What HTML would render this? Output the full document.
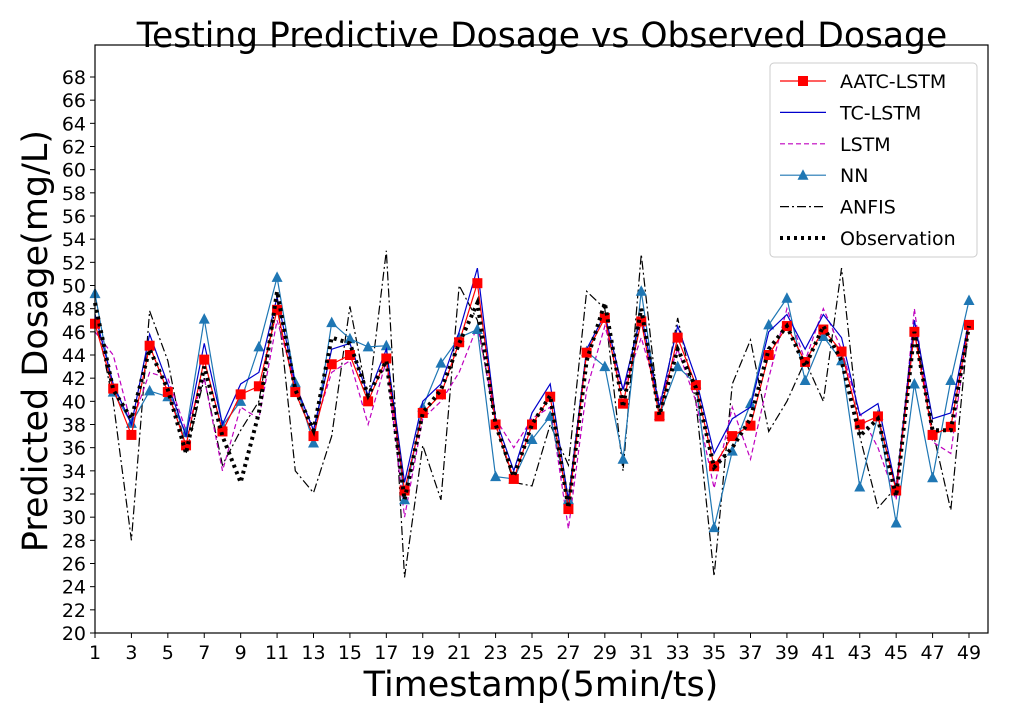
<!DOCTYPE html>
<html><head><meta charset="utf-8"><style>
body{margin:0;background:#fff;}
svg{font-family:"DejaVu Sans","Liberation Sans",sans-serif;}
</style></head><body>
<svg id="chart" width="1011" height="721">
<rect width="1011" height="721" fill="#fff"/>
<text x="542" y="47" font-size="34.5" text-anchor="middle">Testing Predictive Dosage vs Observed Dosage</text>
<text transform="translate(47,341) rotate(-90)" font-size="35" text-anchor="middle">Predicted Dosage(mg/L)</text>
<text x="541" y="696" font-size="35" text-anchor="middle">Timestamp(5min/ts)</text>
<g id="axes"></g>
<g id="series"></g>
<rect x="95" y="45" width="893" height="588" fill="none" stroke="#000" stroke-width="1.2"/>
<g id="legend"></g>
</svg>
<script>
const timestamps=[];for(let i=1;i<=49;i++)timestamps.push(i);
const aatc=[46.7,41.1,37.1,44.8,40.8,36.2,43.6,37.4,40.6,41.3,47.9,40.8,37.0,43.2,44.0,40.0,43.7,32.3,39.0,40.6,45.1,50.2,38.0,33.3,38.0,40.4,30.7,44.2,47.2,39.8,46.9,38.7,45.5,41.4,34.4,37.0,37.9,44.0,46.5,43.4,46.2,44.3,38.0,38.7,32.3,46.0,37.1,37.8,46.6];
const tclstm=[47.5,41.5,38,45.8,41.5,37,45,38,41.5,42.5,49,41.5,37.5,44.5,45,40.5,44.5,33,40,41.5,46,51.5,38.5,34,39,41.5,31.5,44.5,47.5,41,47.5,39.5,46.5,42,35.5,38.5,39.5,46,47.5,44.5,47.5,45.5,38.8,39.8,32.5,47,38.5,39,47];
const lstm=[46,44,38,42.5,42,37.5,42,34,39.5,38.5,47,41.5,37.5,42.5,43.5,38,43.5,30,38.5,40,42.5,46.5,38.5,36,38.5,39.5,29,41,46.5,41,45.5,40,44.5,40,32.5,39.5,35,42,48,43.5,48,44.5,39,36,31.5,48,36.5,35.5,47];
const nn=[49.3,40.8,38.1,40.9,40.4,37.3,47.1,37.9,40,44.7,50.7,41.6,36.4,46.8,45.4,44.7,44.8,31.5,39.5,43.3,45.5,46.2,33.5,33.3,36.7,38.7,31.5,44.3,43,35,49.5,38.8,43,41.5,29.1,35.7,39.8,46.6,48.9,41.8,45.6,43.5,32.6,38.8,29.5,41.5,33.4,41.8,48.7];
const anfis=[47.5,40,28,47.8,43.5,35.5,42,34.5,37.5,40,49,34,32.1,37,48.2,40,53,24.8,36.2,31.5,50,47,38,33,32.7,38,34.5,49.5,48,34,52.7,38.6,47.2,40,24.9,41.5,45.3,37.4,40,43.5,40,51.5,37,30.8,32.6,46.5,37.5,30.6,47];
const observation=[48.5,41,38.5,44.5,41,35.5,43,37,33,39,49.5,41,37.5,45.5,45,40.5,43.5,31.5,39,41,45,48.5,38,33.5,38,40.5,30.8,43.5,48.5,39.5,48,38.8,44.5,41.2,34.3,36,38.5,44.5,46.5,43,46.5,43.5,37,38.5,31.8,46,37.5,37.5,46.5];
const yTicks=[20,22,24,26,28,30,32,34,36,38,40,42,44,46,48,50,52,54,56,58,60,62,64,66,68];
const xTicks=[1,3,5,7,9,11,13,15,17,19,21,23,25,27,29,31,33,35,37,39,41,43,45,47,49];
const NS="http://www.w3.org/2000/svg";
const xS=v=>95+(v-1)*(969-95)/48;
const yS=v=>633-(v-20)*(633-77)/48;
function mk(t,a,p){const e=document.createElementNS(NS,t);for(const k in a)e.setAttribute(k,a[k]);p.appendChild(e);return e;}
const axes=document.getElementById('axes');
yTicks.forEach(v=>{
 const tk=mk('line',{x1:90,x2:95,y1:yS(v),y2:yS(v),stroke:'#000'},axes);
 
 
 const t=mk('text',{x:86,y:yS(v)+7,'font-size':19,'text-anchor':'end'},axes);t.textContent=v;
 
 
});
xTicks.forEach(v=>{
 const tk=mk('line',{x1:xS(v),x2:xS(v),y1:633,y2:638,stroke:'#000'},axes);
 
 
 const t=mk('text',{x:xS(v),y:659,'font-size':19,'text-anchor':'middle'},axes);t.textContent=v;
 
 
});
const series=[
 {name:'ANFIS',data:anfis,color:'#000',w:1.2,dash:'9,3,2,3',marker:null,id:'anfis-line'},
 {name:'LSTM',data:lstm,color:'#bf00bf',w:1.2,dash:'5,3',marker:null,id:'lstm-line'},
 {name:'NN',data:nn,color:'#1f77b4',w:1.2,dash:null,marker:'tri',id:'nn-line'},
 {name:'TC-LSTM',data:tclstm,color:'#0000cc',w:1.2,dash:null,marker:null,id:'tclstm-line'},
 {name:'AATC-LSTM',data:aatc,color:'#ff0000',w:1.2,dash:null,marker:'sq',id:'aatc-lstm-line'},
 {name:'Observation',data:observation,color:'#000',w:4,dash:'3,4',marker:null,id:'observation-line'}
];
const sg=document.getElementById('series');
series.forEach(s=>{
 const pts=s.data.map((v,i)=>xS(timestamps[i])+','+yS(v)).join(' ');
 const pl=mk('polyline',{points:pts,fill:'none',stroke:s.color,'stroke-width':s.w},sg);
 if(s.dash)pl.setAttribute('stroke-dasharray',s.dash);
 
 
 if(s.marker){
  s.data.forEach((v,i)=>{
   const x=xS(timestamps[i]),y=yS(v);let m;
   if(s.marker==='sq')m=mk('rect',{x:x-5,y:y-5,width:10,height:10,fill:s.color},sg);
   else m=mk('polygon',{points:`${x},${y-6} ${x-5.5},${y+4.5} ${x+5.5},${y+4.5}`,fill:s.color},sg);
   
   
  });
 }
});
const lg=document.getElementById('legend');
const box=mk('rect',{x:770,y:63,width:207,height:194,rx:4,fill:'#fff',stroke:'#ccc'},lg);


const order=[4,3,1,2,0,5];
order.forEach((si,k)=>{
 const s=series[si];const y=81+k*31.4;
 const l=mk('line',{x1:780,x2:826,y1:y,y2:y,stroke:s.color,'stroke-width':s.w},lg);
 if(s.dash)l.setAttribute('stroke-dasharray',s.dash);
 
 
 if(s.marker==='sq')mk('rect',{x:798,y:y-5,width:10,height:10,fill:s.color},lg);
 if(s.marker==='tri')mk('polygon',{points:`803,${y-6} 797.5,${y+4.5} 808.5,${y+4.5}`,fill:s.color},lg);
 const t=mk('text',{x:840,y:y+7,'font-size':19},lg);t.textContent=s.name;
 
 
});
</script>
</body></html>
